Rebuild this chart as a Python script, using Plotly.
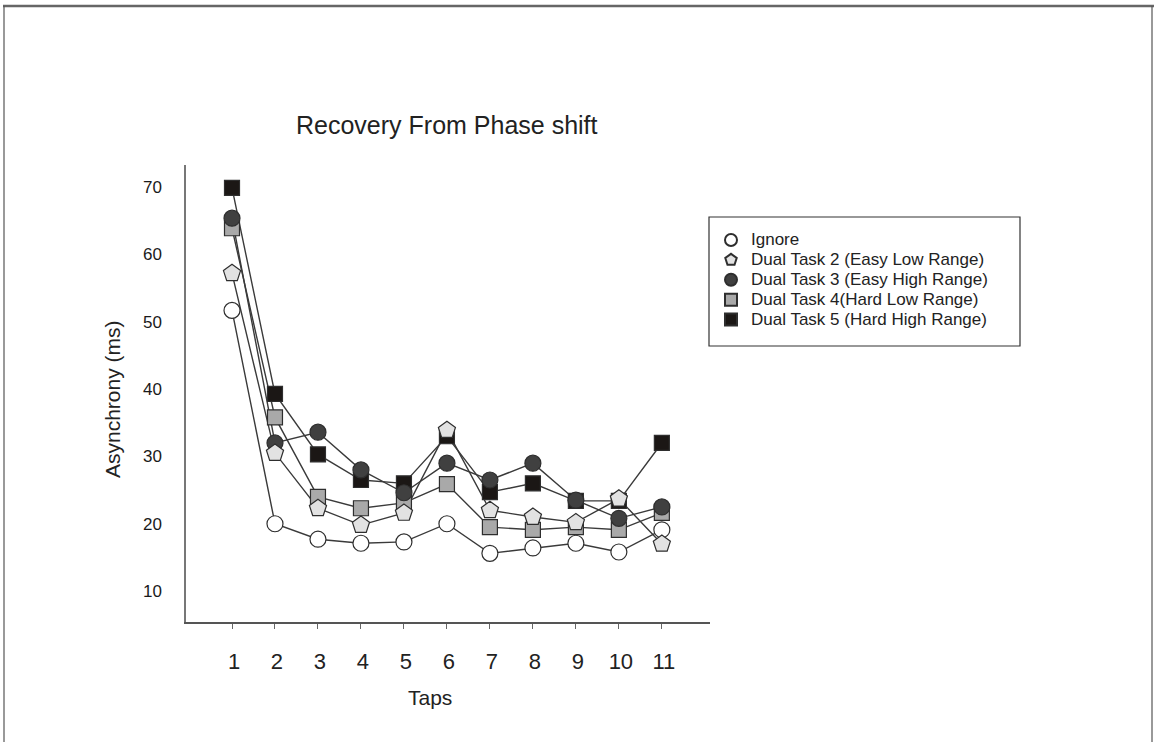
import plotly.graph_objects as go

taps = [1, 2, 3, 4, 5, 6, 7, 8, 9, 10, 11]

ignore = [51.7, 20.0, 17.7, 17.1, 17.3, 20.0, 15.6, 16.4, 17.1, 15.8, 19.1]
dual2 = [57.2, 30.5, 22.3, 19.8, 21.6, 33.9, 22.0, 21.0, 20.2, 23.7, 17.0]
dual3 = [65.4, 32.0, 33.6, 28.0, 24.6, 29.0, 26.5, 29.0, 23.5, 20.8, 22.5]
dual4 = [63.9, 35.8, 24.0, 22.3, 23.1, 25.9, 19.5, 19.1, 19.5, 19.1, 21.6]
dual5 = [69.9, 39.3, 30.3, 26.5, 26.0, 33.0, 24.7, 26.0, 23.4, 23.4, 32.0]

y_ticks = [10, 20, 30, 40, 50, 60, 70]

names = ["Ignore", "Dual Task 2 (Easy Low Range)", "Dual Task 3 (Easy High Range)",
         "Dual Task 4(Hard Low Range)", "Dual Task 5 (Hard High Range)"]

LINE = "#3a3a3a"
EDGE = "#2e2e2e"

styles = {
    "Ignore": dict(symbol="circle", size=16, color="#ffffff"),
    "Dual Task 2 (Easy Low Range)": dict(symbol="pentagon", size=18, color="#e2e2e2"),
    "Dual Task 3 (Easy High Range)": dict(symbol="circle", size=16, color="#404040"),
    "Dual Task 4(Hard Low Range)": dict(symbol="square", size=15, color="#a9a9a9"),
    "Dual Task 5 (Hard High Range)": dict(symbol="square", size=15, color="#1b1715"),
}
series = {
    "Ignore": ignore,
    "Dual Task 2 (Easy Low Range)": dual2,
    "Dual Task 3 (Easy High Range)": dual3,
    "Dual Task 4(Hard Low Range)": dual4,
    "Dual Task 5 (Hard High Range)": dual5,
}
draw_order = ["Dual Task 5 (Hard High Range)", "Dual Task 4(Hard Low Range)",
              "Dual Task 3 (Easy High Range)", "Ignore", "Dual Task 2 (Easy Low Range)"]

fig = go.Figure()

# lines first (below all markers)
for nm in draw_order:
    fig.add_trace(go.Scatter(x=taps, y=series[nm], mode="lines",
                             line=dict(color=LINE, width=1.4),
                             showlegend=False, hoverinfo="skip"))

for nm in draw_order:
    st = styles[nm]
    fig.add_trace(go.Scatter(
        x=taps, y=series[nm], mode="markers",
        name='<span style="font-size:17px">' + nm + '</span>',
        legendrank=names.index(nm) + 1,
        marker=dict(symbol=st["symbol"], size=st["size"], color=st["color"],
                    line=dict(color=EDGE, width=1.2)),
    ))

# pixel -> paper helpers (plot area: x 186..710, y 165..622)
def px(x):
    return (x - 186) / 524.0

def py(y):
    return (622 - y) / 457.0

shapes = [
    # legend frame
    dict(type="rect", xref="paper", yref="paper",
         x0=px(709), x1=px(1020), y0=py(346), y1=py(217),
         line=dict(color="#333333", width=1.2), fillcolor="rgba(0,0,0,0)"),
    # outer page frame
    dict(type="line", xref="paper", yref="paper", x0=px(3), x1=px(1154), y0=py(6), y1=py(6),
         line=dict(color="#666666", width=2.5)),
    dict(type="line", xref="paper", yref="paper", x0=px(4), x1=px(4), y0=py(6), y1=py(760),
         line=dict(color="#555555", width=1.2)),
    dict(type="line", xref="paper", yref="paper", x0=px(1152), x1=px(1152), y0=py(6), y1=py(760),
         line=dict(color="#555555", width=1.2)),
]

FONT = "Liberation Sans, Arial, sans-serif"

annotations = [
    dict(text="Recovery From Phase shift", xref="paper", yref="paper",
         x=px(447), y=py(125), showarrow=False, xanchor="center", yanchor="middle",
         font=dict(size=25, color="#222222", family=FONT)),
    dict(text="Taps", xref="paper", yref="paper",
         x=px(430), y=py(697), showarrow=False, xanchor="center", yanchor="middle",
         font=dict(size=21, color="#222222", family=FONT)),
    dict(text="Asynchrony (ms)", xref="paper", yref="paper",
         x=px(112), y=py(399), showarrow=False, xanchor="center", yanchor="middle",
         textangle=-90, font=dict(size=21, color="#222222", family=FONT)),
]

fig.update_layout(
    width=1157, height=742,
    margin=dict(l=186, r=447, t=165, b=120, pad=0),
    paper_bgcolor="white", plot_bgcolor="white",
    font=dict(family=FONT, color="#222222"),
    showlegend=True,
    legend=dict(x=px(711), y=py(225), xanchor="left", yanchor="top",
                bgcolor="rgba(0,0,0,0)", borderwidth=0,
                font=dict(size=13, color="#222222", family=FONT),
                itemsizing="constant", tracegroupgap=0),
    shapes=shapes,
    annotations=annotations,
    xaxis=dict(range=[-0.07, 12.12], tickvals=taps, ticktext=[str(t) for t in taps],
               showgrid=False, zeroline=False, showline=True, linecolor="#555555", linewidth=1.5,
               ticks="outside", ticklen=5, tickcolor="#666666", tickwidth=1.2,
               tickfont=dict(size=22, color="#222222", family=FONT),
               ticklabelstandoff=14, ticklabelshift=2, fixedrange=True),
    yaxis=dict(range=[5.4, 73.3], tickvals=y_ticks, ticktext=[str(v) for v in y_ticks],
               showgrid=False, zeroline=False, showline=True, linecolor="#777777", linewidth=1.5,
               ticks="", tickfont=dict(size=17, color="#1a1a1a", family=FONT),
               ticklabelstandoff=19, fixedrange=True),
)

fig.write_html("out.html")
